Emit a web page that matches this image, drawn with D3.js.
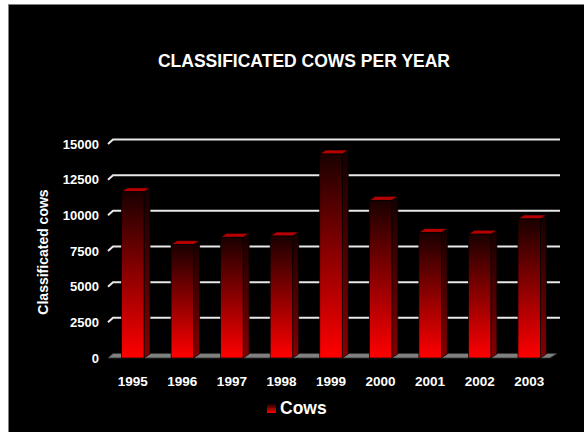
<!DOCTYPE html>
<html>
<head>
<meta charset="utf-8">
<script src="https://cdn.jsdelivr.net/npm/d3@7"></script>
<style>
  body { margin: 0; background: #fff; }
  svg { display: block; font-family: Arial, "Liberation Sans", sans-serif; }
</style>
</head>
<body>
<div id="chart"></div>
<script>
const years = ['1995', '1996', '1997', '1998', '1999', '2000', '2001', '2002', '2003'];
const cows = [11650, 7950, 8460, 8550, 14300, 11050, 8800, 8680, 9750];
const yTicks = [0, 2500, 5000, 7500, 10000, 12500, 15000];

const W = 584, H = 432;
const DX = 5, DY = 4.5;        // wall depth offset
const BDX = 6, BDY = 4;        // bar depth offset
const BAR_W = 22.5;
const FONT = 'Arial, "Liberation Sans", sans-serif';

const svg = d3.select('#chart').append('svg').attr('width', W).attr('height', H);

// chart area
svg.append('rect').attr('x', 8.5).attr('y', 4.5).attr('width', W).attr('height', H)
    .attr('fill', '#000').attr('stroke', '#808080').attr('stroke-width', 1);

const x = d3.scaleBand().domain(years).range([108, 554]);
const y = d3.scaleLinear().domain([0, 15000]).range([358, 144]);

const defs = svg.append('defs');
const front = defs.append('linearGradient').attr('id', 'bar-front')
    .attr('x1', 0).attr('y1', 0).attr('x2', 0).attr('y2', 1);
front.append('stop').attr('offset', '0%').attr('stop-color', '#1a0000');
front.append('stop').attr('offset', '100%').attr('stop-color', '#ff0000');
const side = defs.append('linearGradient').attr('id', 'bar-side')
    .attr('x1', 0).attr('y1', 0).attr('x2', 0).attr('y2', 1);
side.append('stop').attr('offset', '0%').attr('stop-color', '#150000');
side.append('stop').attr('offset', '100%').attr('stop-color', '#850000');

// title
svg.append('text').attr('x', 304).attr('y', 67).attr('text-anchor', 'middle')
    .attr('fill', '#fff').attr('font-weight', 'bold').attr('font-size', 17.5)
    .text('CLASSIFICATED COWS PER YEAR');

// gridlines on the back wall, with a slanted stub at the side
const grid = svg.append('g');
yTicks.filter((t) => t > 0).forEach((t) => {
    grid.append('path')
        .attr('d', `M108,${y(t)} L${108 + DX},${y(t) - DY} L560,${y(t) - DY}`)
        .attr('fill', 'none').attr('stroke', '#e8e8e8').attr('stroke-width', 2);
});

// floor
svg.append('path')
    .attr('d', `M108,${y(0)} L550,${y(0)} L${550 + DX + 2},${y(0) - DY} L${108 + DX},${y(0) - DY} Z`)
    .attr('fill', '#808080').attr('stroke', '#333').attr('stroke-width', 0.8);

// bars
const bars = svg.append('g').selectAll('g').data(years).join('g');
bars.each(function (yr, i) {
    const g = d3.select(this);
    const x0 = x(yr) + x.bandwidth() / 2 - BAR_W / 2;
    const x1 = x0 + BAR_W;
    const yt = y(cows[i]);
    const yb = y(0);
    g.append('path')
        .attr('d', `M${x1},${yt} L${x1 + BDX},${yt - BDY} L${x1 + BDX},${yb - BDY} L${x1},${yb} Z`)
        .attr('fill', 'url(#bar-side)').attr('stroke', '#000').attr('stroke-width', 0.7);
    g.append('path')
        .attr('d', `M${x0},${yt} L${x0 + BDX},${yt - BDY} L${x1 + BDX},${yt - BDY} L${x1},${yt} Z`)
        .attr('fill', '#b80000').attr('stroke', '#000').attr('stroke-width', 0.7);
    g.append('rect').attr('x', x0).attr('y', yt).attr('width', BAR_W).attr('height', yb - yt)
        .attr('fill', 'url(#bar-front)').attr('stroke', '#000').attr('stroke-width', 0.7);
});

// y axis labels
svg.append('g').attr('transform', 'translate(99,0)')
    .call(d3.axisLeft(y).tickValues(yTicks).tickFormat(d3.format('d')).tickSize(0).tickPadding(0))
    .call((sel) => sel.select('.domain').remove())
    .call((sel) => sel.selectAll('text')
        .attr('fill', '#fff').attr('font-weight', 'bold').attr('font-size', 13)
        .attr('font-family', FONT));

// x axis labels
svg.append('g').attr('transform', `translate(0,${y(0) + 8})`)
    .call(d3.axisBottom(x).tickSize(0).tickPadding(10))
    .call((sel) => sel.select('.domain').remove())
    .call((sel) => sel.selectAll('text')
        .attr('fill', '#fff').attr('font-weight', 'bold').attr('font-size', 13.5)
        .attr('font-family', FONT));

// y axis title
svg.append('text').attr('transform', 'translate(48,252) rotate(-90)')
    .attr('text-anchor', 'middle').attr('fill', '#fff')
    .attr('font-weight', 'bold').attr('font-size', 14)
    .text('Classificated cows');

// legend
const legend = svg.append('g').attr('transform', 'translate(267,404)');
legend.append('rect').attr('width', 9).attr('height', 9).attr('fill', 'url(#bar-front)');
legend.append('text').attr('x', 13).attr('y', 9.5).attr('fill', '#fff')
    .attr('font-weight', 'bold').attr('font-size', 17.5).text('Cows');
</script>
</body>
</html>
